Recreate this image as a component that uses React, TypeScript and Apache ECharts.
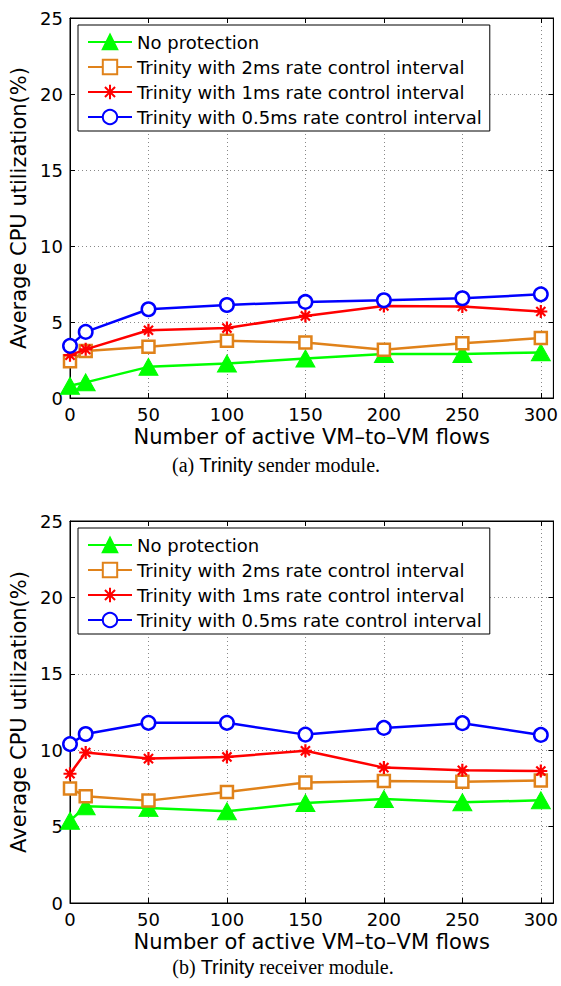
import React, { useEffect, useRef } from "react";
import * as echarts from "echarts";

const flows = [0, 10, 50, 100, 150, 200, 250, 300];
const seriesNames = [
  "No protection",
  "Trinity with 2ms rate control interval",
  "Trinity with 1ms rate control interval",
  "Trinity with 0.5ms rate control interval",
];
// (a) sender module
const senderNoProt = [0.8, 1.03, 2.05, 2.27, 2.6, 2.89, 2.89, 3.0];
const sender2ms = [2.41, 3.1, 3.37, 3.76, 3.65, 3.17, 3.6, 3.94];
const sender1ms = [2.82, 3.2, 4.46, 4.6, 5.4, 6.06, 6.02, 5.69];
const sender05ms = [3.43, 4.35, 5.84, 6.12, 6.32, 6.43, 6.56, 6.82];
// (b) receiver module
const recvNoProt = [5.38, 6.33, 6.21, 6.0, 6.54, 6.81, 6.59, 6.72];
const recv2ms = [7.5, 6.99, 6.7, 7.27, 7.89, 7.98, 7.93, 8.02];
const recv1ms = [8.46, 9.85, 9.45, 9.56, 9.96, 8.86, 8.68, 8.64];
const recv05ms = [10.4, 11.06, 11.79, 11.79, 11.02, 11.46, 11.77, 11.0];

const xTickLabels = ["0", "50", "100", "150", "200", "250", "300"];
const yTickLabels = ["0", "5", "10", "15", "20", "25"];
const xTitle = "Number of active VM\u2013to\u2013VM flows";
const yTitle = "Average CPU utilization(%)";

const SANS = "DejaVu Sans";
const ASTERISK =
  "path://M10,0 L10,20 M0,10 L20,10 M3,3 L17,17 M3,17 L17,3";

const styles = [
  {
    symbol: "triangle",
    symbolSize: [19, 17],
    lineStyle: { color: "#00ff00", width: 2.5 },
    itemStyle: { color: "#00ff00", borderColor: "#00ff00", borderWidth: 1 },
  },
  {
    symbol: "rect",
    symbolSize: 12,
    lineStyle: { color: "#e0821a", width: 2.5 },
    itemStyle: { color: "#ffffff", borderColor: "#e0821a", borderWidth: 2.5 },
  },
  {
    symbol: ASTERISK,
    symbolSize: 13,
    lineStyle: { color: "#ff0000", width: 2.5 },
    itemStyle: { color: "#ff0000", borderColor: "#ff0000", borderWidth: 2.2 },
  },
  {
    symbol: "circle",
    symbolSize: 13.5,
    lineStyle: { color: "#0000ff", width: 2.5 },
    itemStyle: { color: "#ffffff", borderColor: "#0000ff", borderWidth: 2.5 },
  },
];

function makeX(gridIndex: number, bottom: boolean) {
  return {
    type: "value",
    gridIndex,
    position: bottom ? "bottom" : "top",
    min: 0,
    max: 308,
    interval: 50,
    name: bottom ? xTitle : "",
    nameLocation: "middle",
    nameGap: 28,
    nameMoveOverlap: false,
    nameTextStyle: { fontFamily: SANS, fontSize: 21, color: "#000", lineHeight: 21 },
    axisLine: { show: true, onZero: false, lineStyle: { color: "#000", width: 1 } },
    axisTick: { show: true, inside: true, length: 5, lineStyle: { color: "#000" } },
    axisLabel: {
      show: bottom,
      margin: 7,
      fontFamily: SANS,
      fontSize: 18,
      lineHeight: 18,
      color: "#000",
      formatter: (v: number) => {
        const s = String(v);
        return xTickLabels.includes(s) ? s : "";
      },
    },
    splitLine: {
      show: bottom,
      lineStyle: { color: "#888", width: 1, type: [1, 3] },
    },
  };
}

function makeY(gridIndex: number, left: boolean) {
  return {
    type: "value",
    gridIndex,
    position: left ? "left" : "right",
    min: 0,
    max: 25,
    interval: 5,
    name: left ? yTitle : "",
    nameLocation: "middle",
    nameGap: 33,
    nameTextStyle: { fontFamily: SANS, fontSize: 21, color: "#000" },
    axisLine: { show: true, onZero: false, lineStyle: { color: "#000", width: 1 } },
    axisTick: { show: true, inside: true, length: 5, lineStyle: { color: "#000" } },
    axisLabel: {
      show: left,
      margin: 7,
      fontFamily: SANS,
      fontSize: 18,
      color: "#000",
      formatter: (v: number) => {
        const s = String(v);
        return yTickLabels.includes(s) ? s : "";
      },
    },
    splitLine: {
      show: left,
      lineStyle: { color: "#888", width: 1, type: [1, 3] },
    },
  };
}

function makeSeries(values: number[][], axisIdx: number) {
  return values.map((vals, i) => ({
    type: "line",
    name: seriesNames[i],
    xAxisIndex: axisIdx,
    yAxisIndex: axisIdx,
    data: flows.map((f, j) => [f, vals[j]]),
    symbol: styles[i].symbol,
    symbolSize: styles[i].symbolSize,
    showAllSymbol: true,
    lineStyle: styles[i].lineStyle,
    itemStyle: styles[i].itemStyle,
    emphasis: { disabled: true },
    z: 2 + i,
  }));
}

function makeLegend(top: number) {
  return {
    data: seriesNames,
    orient: "vertical",
    left: 78,
    top,
    padding: [7, 8, 4, 9],
    itemGap: 5,
    itemWidth: 44,
    itemHeight: 18,
    backgroundColor: "#fff",
    borderColor: "#000",
    borderWidth: 1,
    borderRadius: 0,
    selectedMode: false,
    textStyle: { fontFamily: SANS, fontSize: 18, color: "#000", lineHeight: 20 },
  };
}

export default function App() {
  const ref = useRef<HTMLDivElement>(null);
  useEffect(() => {
    if (!ref.current) return;
    const chart = echarts.init(ref.current, undefined, { renderer: "svg" });
    const captionRich = {
      s: { fontFamily: "Liberation Serif", fontSize: 20, fill: "#000" },
      t: { fontFamily: "Liberation Sans", fontSize: 20, fill: "#000" },
    };
    chart.setOption({
      animation: false,
      backgroundColor: "#fff",
      grid: [
        { left: 70, top: 18, width: 485, height: 380, show: true, borderColor: "#000", borderWidth: 1, backgroundColor: "transparent" },
        { left: 70, top: 521, width: 485, height: 382, show: true, borderColor: "#000", borderWidth: 1, backgroundColor: "transparent" },
      ],
      xAxis: [makeX(0, true), makeX(0, false), makeX(1, true), makeX(1, false)],
      yAxis: [makeY(0, true), makeY(0, false), makeY(1, true), makeY(1, false)],
      legend: [makeLegend(25), makeLegend(528)],
      series: [
        ...makeSeries([senderNoProt, sender2ms, sender1ms, sender05ms], 0),
        ...makeSeries([recvNoProt, recv2ms, recv1ms, recv05ms], 2),
      ],
      graphic: [
        {
          type: "text",
          x: 276,
          y: 465,
          style: {
            text: "{s|(a) }{t|Trinity}{s| sender module.}",
            rich: captionRich,
            align: "center",
            verticalAlign: "middle",
          },
        },
        {
          type: "text",
          x: 283,
          y: 967,
          style: {
            text: "{s|(b) }{t|Trinity}{s| receiver module.}",
            rich: captionRich,
            align: "center",
            verticalAlign: "middle",
          },
        },
      ],
    });
    return () => chart.dispose();
  }, []);
  return (
    <div
      ref={ref}
      style={{ position: "fixed", left: 0, top: 0, width: 561, height: 986 }}
    />
  );
}
